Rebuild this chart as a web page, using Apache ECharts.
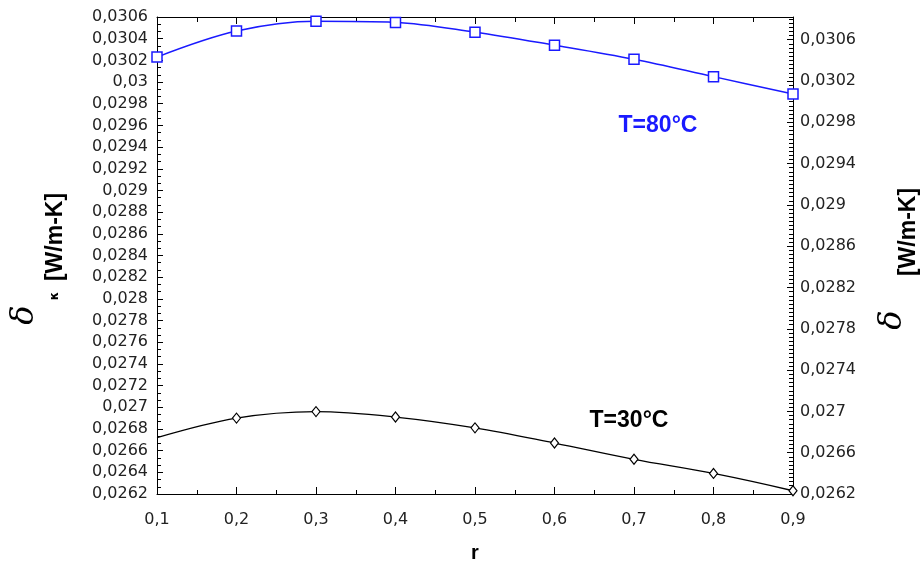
<!DOCTYPE html>
<html>
<head>
<meta charset="utf-8">
<script src="https://cdn.jsdelivr.net/npm/echarts@6/dist/echarts.min.js"></script>
<style>
html,body{margin:0;padding:0;background:#fff;}
#chart{width:922px;height:563px;}
</style>
</head>
<body>
<div id="chart"></div>
<script>
// r values (x axis)
const rValues = [0.1, 0.2, 0.3, 0.4, 0.5, 0.6, 0.7, 0.8, 0.9];
// thermal conductivity at T=80°C
const kappa80 = [0.03023, 0.03047, 0.03056, 0.03055, 0.03046, 0.03034, 0.03021, 0.03005, 0.02989];
// thermal conductivity at T=30°C
const kappa30 = [0.02672, 0.02690, 0.02696, 0.02691, 0.02681, 0.02667, 0.02652, 0.02639, 0.02623];
// series labels
const seriesNames = ['T=80°C', 'T=30°C'];
// axis ranges / ticks
const leftAxisRange = [0.0262, 0.0306];
const leftAxisStep = 0.0002;
const rightAxisRange = [0.0262, 0.03082];
const rightAxisStep = 0.0004;
const xAxisRange = [0.1, 0.9];
const xAxisStep = 0.1;
const axisTitle = '[W/m-K]';
const xTitle = 'r';

function fmt(v, d) {
  return parseFloat(v.toFixed(d)).toString().replace('.', ',');
}

const labelFont = {fontFamily: 'DejaVu Sans', fontSize: 16, color: '#222'};
const lineBlack = {color: '#000', width: 1};

const chart = echarts.init(document.getElementById('chart'));
const option = {
  animation: false,
  backgroundColor: '#fff',
  grid: {left: 157, right: 129, top: 17, bottom: 69, containLabel: false, outerBoundsMode: 'none'},
  xAxis: [{
    type: 'value', min: xAxisRange[0], max: xAxisRange[1], interval: xAxisStep,
    position: 'bottom',
    axisLine: {show: true, lineStyle: lineBlack},
    axisTick: {show: true, inside: true, length: 7, lineStyle: lineBlack},
    minorTick: {show: true, splitNumber: 2, length: 4, lineStyle: lineBlack},
    splitLine: {show: false},
    axisLabel: Object.assign({margin: 18, formatter: v => fmt(v, 2)}, labelFont),
    name: xTitle, nameLocation: 'middle', nameGap: 49,
    nameTextStyle: {fontFamily: 'Liberation Sans', fontWeight: 'bold', fontSize: 20, color: '#000'}
  }, {
    type: 'value', min: xAxisRange[0], max: xAxisRange[1], interval: xAxisStep,
    position: 'top',
    axisLine: {show: true, lineStyle: lineBlack},
    axisTick: {show: true, inside: true, length: 7, lineStyle: lineBlack},
    minorTick: {show: true, splitNumber: 2, length: 5, lineStyle: lineBlack},
    splitLine: {show: false},
    axisLabel: {show: false}
  }],
  yAxis: [{
    type: 'value', min: leftAxisRange[0], max: leftAxisRange[1], interval: leftAxisStep,
    position: 'left',
    axisLine: {show: true, lineStyle: lineBlack},
    axisTick: {show: true, inside: true, length: 6, lineStyle: lineBlack},
    minorTick: {show: true, splitNumber: 3, length: 4, lineStyle: lineBlack},
    splitLine: {show: false},
    axisLabel: Object.assign({margin: 9, formatter: v => fmt(v, 5)}, labelFont)
  }, {
    type: 'value', min: rightAxisRange[0], max: rightAxisRange[1], interval: rightAxisStep,
    position: 'right',
    axisLine: {show: true, lineStyle: lineBlack},
    axisTick: {show: true, inside: true, length: 6, lineStyle: lineBlack},
    minorTick: {show: true, splitNumber: 10, length: 4, lineStyle: lineBlack},
    splitLine: {show: false},
    axisLabel: Object.assign({margin: 7, showMaxLabel: false, formatter: v => fmt(v, 5)}, labelFont)
  }],
  series: [{
    name: seriesNames[0], type: 'line', xAxisIndex: 0, yAxisIndex: 0,
    data: rValues.map((x, i) => [x, kappa80[i]]),
    smooth: 0.35, symbol: 'rect', symbolSize: 10,
    lineStyle: {color: '#1a1aff', width: 1.5},
    itemStyle: {color: '#fff', borderColor: '#1a1aff', borderWidth: 1.5},
    clip: false, z: 3
  }, {
    name: seriesNames[1], type: 'line', xAxisIndex: 0, yAxisIndex: 0,
    data: rValues.map((x, i) => i === 0 ? {value: [x, kappa30[i]], symbolSize: 0} : [x, kappa30[i]]),
    smooth: 0.35, symbol: 'diamond', symbolSize: [8, 10],
    lineStyle: {color: '#000', width: 1.3},
    itemStyle: {color: '#fff', borderColor: '#000', borderWidth: 1.2},
    clip: false, z: 3
  }],
  graphic: [
    {type: 'text', x: 658, y: 126, style: {text: seriesNames[0], fill: '#1a1aff', font: 'bold 23px "Liberation Sans"', align: 'center', verticalAlign: 'middle'}},
    {type: 'text', x: 629, y: 421, style: {text: seriesNames[1], fill: '#000', font: 'bold 23px "Liberation Sans"', align: 'center', verticalAlign: 'middle'}},
    // left axis title
    {type: 'text', x: 25, y: 315, rotation: Math.PI / 2, style: {text: 'δ', fill: '#000', font: 'italic 32px "DejaVu Serif"', align: 'center', verticalAlign: 'middle'}},
    {type: 'text', x: 55, y: 296, rotation: Math.PI / 2, style: {text: 'κ', fill: '#000', font: 'bold 12px "DejaVu Sans"', align: 'center', verticalAlign: 'middle'}},
    {type: 'text', x: 56, y: 237, rotation: Math.PI / 2, style: {text: axisTitle, fill: '#000', font: 'bold 23px "Liberation Sans"', align: 'center', verticalAlign: 'middle'}},
    // right axis title
    {type: 'text', x: 893, y: 320, rotation: Math.PI / 2, style: {text: 'δ', fill: '#000', font: 'italic 32px "DejaVu Serif"', align: 'center', verticalAlign: 'middle'}},
    {type: 'text', x: 909, y: 232, rotation: Math.PI / 2, style: {text: axisTitle, fill: '#000', font: 'bold 23px "Liberation Sans"', align: 'center', verticalAlign: 'middle'}}
  ]
};
chart.setOption(option);
</script>
</body>
</html>
